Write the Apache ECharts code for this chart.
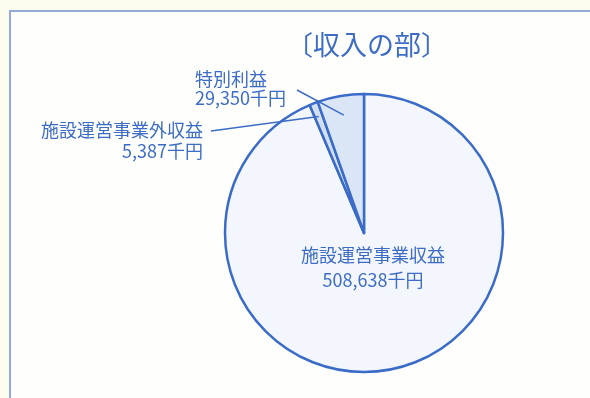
<!DOCTYPE html>
<html>
<head>
<meta charset="utf-8">
<script src="https://cdn.jsdelivr.net/npm/echarts@6/dist/echarts.min.js"></script>
<style>
html,body{margin:0;padding:0;background:#fefcee;}
#chart{width:590px;height:398px;}
</style>
</head>
<body>
<div id="chart"></div>
<script>
const titleText = '〔収入の部〕';
const categories = ['施設運営事業収益', '施設運営事業外収益', '特別利益'];
const values = [508638, 5387, 29350];
const unit = '千円';

const BLUE = '#3d6cc6';
const FONT = '"Noto Sans CJK JP", "Noto Sans", sans-serif';
const CX = 364, CY = 233, R = 139;
const fills = ['#f3f7fd', '#d3e0f4', '#dae5f6'];

const total = values.reduce((a, b) => a + b, 0);
// mid-angle (degrees, counter-clockwise from 12 o'clock) of each slice; slices run clockwise from the top
function midAngleFromTop(i) {
  let start = 0;
  for (let k = 0; k < i; k++) start += values[k] / total * 360;
  const mid = start + values[i] / total * 180;
  return 360 - mid;
}
function polar(i, rf) {
  const a = midAngleFromTop(i) * Math.PI / 180;
  return [CX - Math.sin(a) * R * rf, CY - Math.cos(a) * R * rf];
}

const data = categories.map((n, i) => ({
  name: n,
  value: values[i],
  itemStyle: { color: fills[i] },
  label: { lineHeight: i === 0 ? 25 : (i === 1 ? 21 : 19) }
}));

const chart = echarts.init(document.getElementById('chart'), null, { renderer: 'canvas' });
chart.setOption({
  backgroundColor: '#fefcee',
  animation: false,
  graphic: [{
    type: 'rect',
    z: -1,
    shape: { x: 10, y: 11, width: 700, height: 500 },
    style: { fill: '#fefefd', stroke: '#92abd9', lineWidth: 2 }
  }, {
    type: 'polyline',
    z: 10,
    shape: { points: [[211, 131], polar(1, 0.9)] },
    style: { stroke: BLUE, lineWidth: 1.5, fill: null }
  }, {
    type: 'polyline',
    z: 10,
    shape: { points: [[297, 90], polar(2, 0.86)] },
    style: { stroke: BLUE, lineWidth: 1.5, fill: null }
  }],
  title: {
    text: titleText,
    left: 281,
    top: 26,
    textStyle: { color: BLUE, fontSize: 27, fontWeight: 'normal', fontFamily: FONT }
  },
  series: [{
    type: 'pie',
    center: [CX, CY],
    radius: R,
    startAngle: 90,
    clockwise: true,
    data: data,
    itemStyle: { borderColor: '#3a6bc8', borderWidth: 2.5 },
    label: {
      show: true,
      position: 'outside',
      color: BLUE,
      fontSize: 18,
      fontFamily: FONT,
      formatter: p => p.name + '\n' + p.value.toLocaleString('en-US') + unit
    },
    labelLine: { show: false },
    labelLayout: function (p) {
      if (p.dataIndex === 0) {
        return { x: 373, y: 268, align: 'center', verticalAlign: 'middle' };
      }
      if (p.dataIndex === 1) {
        return { x: 203, y: 141, align: 'right', verticalAlign: 'middle' };
      }
      return { x: 195, y: 89, align: 'left', verticalAlign: 'middle' };
    }
  }]
});
</script>
</body>
</html>
